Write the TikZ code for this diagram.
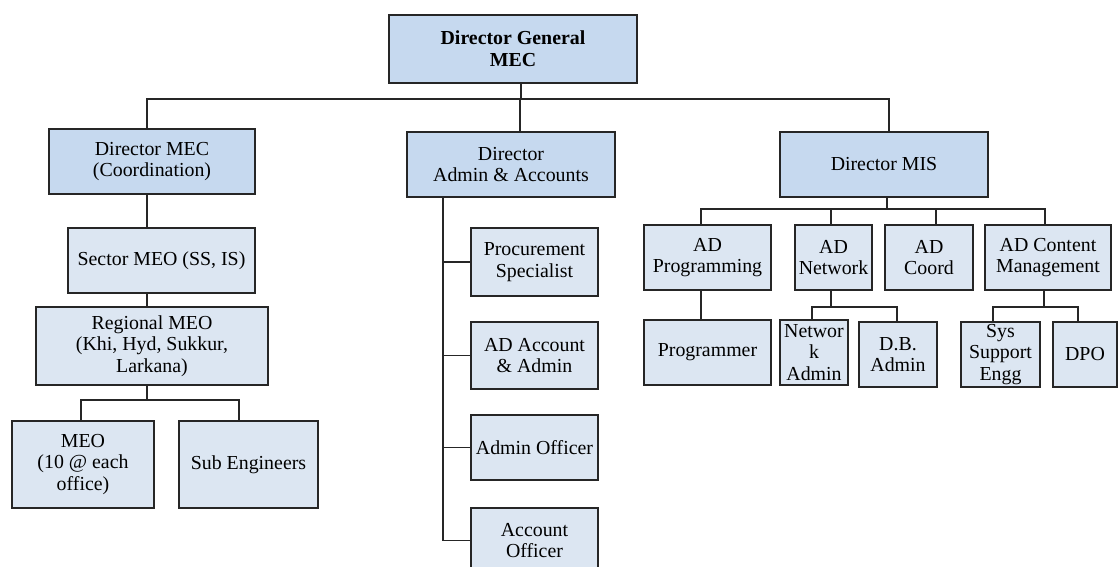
\documentclass[tikz,border=0pt]{standalone}
\usepackage{fontspec}
\setmainfont{Liberation Serif}
\begin{document}
\definecolor{headfill}{HTML}{C6D9EF}
\definecolor{unitfill}{HTML}{DCE6F2}
\begin{tikzpicture}[x=0.75pt,y=-0.75pt,
  base/.style={draw=black!85, line width=1.3pt, inner sep=0pt, align=center,
    font=\fontsize{14.9pt}{16.3pt}\selectfont},
  head/.style={base, fill=headfill},
  unit/.style={base, fill=unitfill},
  wh/.style 2 args={minimum width=#1*0.75pt, minimum height=#2*0.75pt},
  link/.style={draw=black!85, line width=1.3pt}]
\useasboundingbox (0,0) rectangle (1118,567);

% top level
\node[head, wh={248}{68}] (dg) at (513,49) {\textbf{Director General}\\\textbf{MEC}};

% directors
\node[head, wh={206}{65}] (dmec) at (152,161.5) {Director MEC\\(Coordination)};
\node[head, wh={208}{65}] (dadm) at (511,164.5) {Director\\Admin \& Accounts};
\node[head, wh={208}{65}] (dmis) at (884,164.5) {Director MIS};

% coordination branch
\node[unit, wh={187}{65}] (sector) at (161.5,260.5) {Sector MEO (SS, IS)};
\node[unit, wh={232}{78}] (regional) at (152,346) {Regional MEO\\(Khi, Hyd, Sukkur,\\Larkana)};
\node[unit, wh={142}{87}] (meo) at (83,464.5) {MEO\\(10 @ each\\office)};
\node[unit, wh={139}{87}] (subeng) at (248.5,464.5) {Sub Engineers};

% admin & accounts branch
\node[unit, wh={127}{68}] (proc) at (534.5,262) {Procurement\\Specialist};
\node[unit, wh={127}{67}] (adacc) at (534.5,355.5) {AD Account\\\& Admin};
\node[unit, wh={127}{65}] (admoff) at (534.5,447.5) {Admin Officer};
\node[unit, wh={127}{65}] (accoff) at (534.5,540.5) {Account\\Officer};

% MIS branch
\node[unit, wh={127}{65}] (adprog) at (707.5,257.5) {AD\\Programming};
\node[unit, wh={77}{65}] (adnet) at (833.5,257.5) {AD\\Network};
\node[unit, wh={88}{65}] (adcoord) at (929,257.5) {AD\\Coord};
\node[unit, wh={126}{65}] (adcont) at (1048,257.5) {AD Content\\Management};
\node[unit, wh={127}{65}] (prog) at (707.5,352.5) {Programmer};
\node[unit, wh={68}{65}] (netadm) at (814,352.5) {Networ\\k\\Admin};
\node[unit, wh={78}{65}] (dbadm) at (898,354.5) {D.B.\\Admin};
\node[unit, wh={79}{65}] (sys) at (1000.5,354.5) {Sys\\Support\\Engg};
\node[unit, wh={64}{65}] (dpo) at (1085,354.5) {DPO};

% bus positions
\coordinate (dgx) at (521,99);
\coordinate (mecx) at (147,99);
\coordinate (admx) at (520,99);
\coordinate (misx) at (889,99);
\coordinate (regbus) at (147,400);
\coordinate (meox) at (81,400);
\coordinate (subx) at (239,400);
\coordinate (admbus) at (443,99);
\coordinate (misbus) at (887,209);
\coordinate (progx) at (701,209);
\coordinate (netx) at (831,209);
\coordinate (coordx) at (936,209);
\coordinate (contx) at (1045,209);
\coordinate (netbus) at (831,307);
\coordinate (netadmx) at (812,307);
\coordinate (dbadmx) at (897,307);
\coordinate (contbus) at (1044,307);
\coordinate (sysx) at (993,307);
\coordinate (dpox) at (1078,307);

% director general to directors
\draw[link] (dg.south -| dgx) -- (dgx);
\draw[link] (dmec.north -| mecx) -- (mecx) -- (misx) -- (dmis.north -| misx);
\draw[link] (admx) -- (dadm.north -| admx);

% coordination chain
\draw[link] (dmec.south -| mecx) -- (sector.north -| mecx);
\draw[link] (sector.south -| mecx) -- (regional.north -| mecx);
\draw[link] (regional.south -| regbus) -- (regbus);
\draw[link] (meo.north -| meox) -- (meox) -- (subx) -- (subeng.north -| subx);

% admin & accounts bus
\draw[link] (dadm.south -| admbus) -- (accoff.west -| admbus);
\draw[link] (proc.west -| admbus) -- (proc.west);
\draw[link] (adacc.west -| admbus) -- (adacc.west);
\draw[link] (admoff.west -| admbus) -- (admoff.west);
\draw[link] (accoff.west -| admbus) -- (accoff.west);

% MIS tree
\draw[link] (dmis.south -| misbus) -- (misbus);
\draw[link] (adprog.north -| progx) -- (progx) -- (contx) -- (adcont.north -| contx);
\draw[link] (netx) -- (adnet.north -| netx);
\draw[link] (coordx) -- (adcoord.north -| coordx);
\draw[link] (adprog.south -| progx) -- (prog.north -| progx);
\draw[link] (adnet.south -| netbus) -- (netbus);
\draw[link] (netadm.north -| netadmx) -- (netadmx) -- (dbadmx) -- (dbadm.north -| dbadmx);
\draw[link] (adcont.south -| contbus) -- (contbus);
\draw[link] (sys.north -| sysx) -- (sysx) -- (dpox) -- (dpo.north -| dpox);
\end{tikzpicture}
\end{document}
